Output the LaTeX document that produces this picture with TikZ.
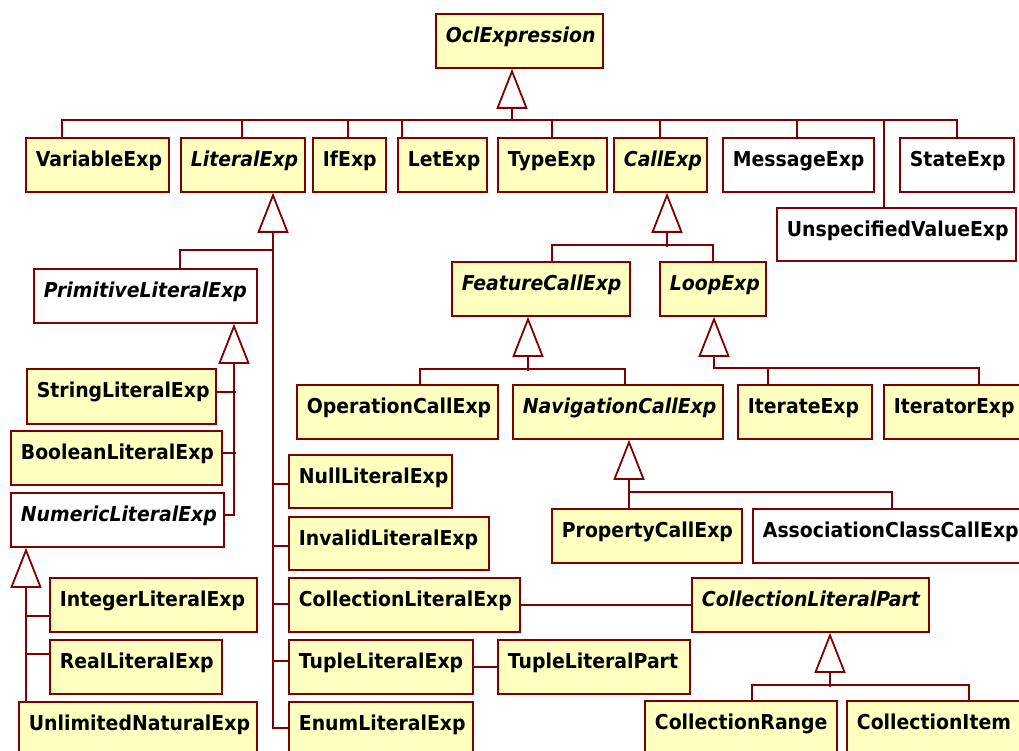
\documentclass[tikz,border=0pt]{standalone}
\usepackage{fontspec}
\setmainfont{DejaVu Sans}[FakeStretch=0.92]
\usetikzlibrary{arrows.meta}
\definecolor{umlred}{RGB}{128,0,0}
\definecolor{umlyellow}{RGB}{255,255,192}
\tikzset{
  umlbox/.style={draw=umlred, line width=1.8pt, fill=umlyellow, anchor=north west,
    inner xsep=10pt, inner ysep=0pt, text height=29pt, align=left,
    font=\fontsize{20.5}{24}\selectfont\bfseries},
  plainbox/.style={umlbox, fill=white},
  absbox/.style={umlbox, font=\fontsize{20.5}{24}\selectfont\bfseries\itshape},
  absplain/.style={absbox, fill=white},
  conn/.style={draw=umlred, line width=1.8pt},
  gen/.style={conn, -{Triangle[open, length=40pt, width=31pt, line width=1.8pt]}},
}
% #1 style, #2 name, #3 x, #4 y, #5 text width, #6 text depth, #7 text
\newcommand\umlnode[7]{\node[#1, text width=#5pt, text depth=#6pt] (#2) at (#3,#4) {\mbox{#7}};}
\begin{document}
\begin{tikzpicture}[x=1pt, y=-1pt]
\useasboundingbox (0,0) rectangle (1019,751);
\clip (0,0) rectangle (1019,751);
% nodes
\umlnode{absbox}{ocl}{435}{13}{147}{25}{OclExpression}
\umlnode{umlbox}{var}{25}{137}{123}{25}{VariableExp}
\umlnode{absbox}{lit}{180}{137}{104}{25}{LiteralExp}
\umlnode{umlbox}{ifx}{312}{137}{53}{25}{IfExp}
\umlnode{umlbox}{let}{397}{137}{69}{25}{LetExp}
\umlnode{umlbox}{type}{497}{137}{89}{25}{TypeExp}
\umlnode{absbox}{call}{613}{137}{73}{25}{CallExp}
\umlnode{plainbox}{msg}{722}{137}{131}{25}{MessageExp}
\umlnode{plainbox}{state}{899}{137}{94}{25}{StateExp}
\umlnode{plainbox}{unspec}{776}{207}{219}{24}{UnspecifiedValueExp}
\umlnode{absbox}{feat}{451}{261}{158}{25}{FeatureCallExp}
\umlnode{absbox}{loop}{659}{261}{86}{25}{LoopExp}
\umlnode{umlbox}{op}{296}{384}{181}{25}{OperationCallExp}
\umlnode{absbox}{nav}{512}{384}{190}{25}{NavigationCallExp}
\umlnode{umlbox}{iterate}{737}{384}{114}{25}{IterateExp}
\umlnode{umlbox}{iterator}{883}{384}{130}{25}{IteratorExp}
\umlnode{umlbox}{prop}{551}{508}{170}{25}{PropertyCallExp}
\umlnode{plainbox}{assoc}{752}{508}{270}{25}{AssociationClassCallExp}
\umlnode{absplain}{prim}{33}{268}{203}{25}{PrimitiveLiteralExp}
\umlnode{umlbox}{str}{26}{368}{169}{26}{StringLiteralExp}
\umlnode{umlbox}{bool}{10}{430}{191}{25}{BooleanLiteralExp}
\umlnode{absplain}{num}{10}{492}{193}{25}{NumericLiteralExp}
\umlnode{umlbox}{int}{49}{577}{187}{25}{IntegerLiteralExp}
\umlnode{umlbox}{real}{49}{639}{152}{25}{RealLiteralExp}
\umlnode{umlbox}{unl}{18}{701}{218}{31}{UnlimitedNaturalExp}
\umlnode{umlbox}{null}{288}{454}{143}{24}{NullLiteralExp}
\umlnode{umlbox}{inv}{288}{516}{180}{24}{InvalidLiteralExp}
\umlnode{umlbox}{coll}{288}{577}{211}{25}{CollectionLiteralExp}
\umlnode{umlbox}{tuple}{288}{639}{164}{25}{TupleLiteralExp}
\umlnode{umlbox}{tpart}{497}{639}{172}{25}{TupleLiteralPart}
\umlnode{umlbox}{enum}{288}{701}{164}{31}{EnumLiteralExp}
\umlnode{absbox}{clpart}{691}{577}{217}{25}{CollectionLiteralPart}
\umlnode{umlbox}{crange}{644}{700}{172}{31}{CollectionRange}
\umlnode{umlbox}{citem}{846}{700}{160}{31}{CollectionItem}
% top level generalisation
\coordinate (bus1) at (512,120);
\draw[gen] (bus1) -- ([xshift=77pt]ocl.south west);
\draw[conn] ([xshift=37pt]var.north west) |- (bus1) -| ([xshift=58pt]state.north west);
\draw[conn] ([xshift=62pt]lit.north west) -- ++(0,-17);
\draw[conn] ([xshift=36pt]ifx.north west) -- ++(0,-17);
\draw[conn] ([xshift=5pt]let.north west) -- ++(0,-17);
\draw[conn] ([xshift=55pt]type.north west) -- ++(0,-17);
\draw[conn] ([xshift=47pt]call.north west) -- ++(0,-17);
\draw[conn] ([xshift=75pt]msg.north west) -- ++(0,-17);
\draw[conn] ([xshift=108pt]unspec.north west) -- ++(0,-87);
% literal subtree
\draw[gen] ([yshift=-27pt]enum.north west) -| ([xshift=93pt]lit.south west);
\draw[conn] ([xshift=147pt]prim.north west) |- ++(93,-18);
\draw[conn] ([yshift=-30pt]null.north west) -- ++(-15,0);
\draw[conn] ([yshift=-30pt]inv.north west) -- ++(-15,0);
\draw[conn] ([yshift=-27pt]coll.north west) -- ++(-15,0);
\draw[conn] ([yshift=-22pt]tuple.north west) -- ++(-15,0);
% primitive literal subtree
\draw[gen] ([yshift=-23pt]num.north east) -| ([xshift=201pt]prim.south west);
\draw[conn] ([yshift=-24pt]str.north east) -- ++(19,0);
\draw[conn] ([yshift=-23pt]bool.north east) -- ++(13,0);
% numeric literal subtree
\draw[gen] ([xshift=8pt]unl.north west) -- ([xshift=16pt]num.south west);
\draw[conn] ([yshift=-39pt]int.north west) -- ++(-23,0);
\draw[conn] ([yshift=-15pt]real.north west) -- ++(-23,0);
% call subtree
\draw[gen] ([xshift=54pt,yshift=-54pt]call.south west) -- ([xshift=54pt]call.south west);
\draw[conn] ([xshift=101pt]feat.north west) -- ++(0,-16) -| ([xshift=54pt]loop.north west);
% feature call subtree
\draw[gen] ([xshift=77pt,yshift=-54pt]feat.south west) -- ([xshift=77pt]feat.south west);
\draw[conn] ([xshift=124pt]op.north west) -- ++(0,-15) -| ([xshift=113pt]nav.north west);
% loop subtree
\draw[gen] ([xshift=96pt]iterator.north west) -- ++(0,-16) -| ([xshift=55pt]loop.south west);
\draw[conn] ([xshift=31pt]iterate.north west) -- ++(0,-16);
% navigation subtree
\draw[gen] ([xshift=140pt]assoc.north west) -- ++(0,-16) -| ([xshift=117pt]nav.south west);
\draw[conn] ([xshift=78pt]prop.north west) -- ++(0,-16);
% associations
\draw[conn] (coll.east) -- (clpart.west);
\draw[conn] (tuple.east) -- (tpart.west);
% collection literal part subtree
\draw[gen] ([xshift=139pt,yshift=-54pt]clpart.south west) -- ([xshift=139pt]clpart.south west);
\draw[conn] ([xshift=108pt]crange.north west) -- ++(0,-15) -| ([xshift=123pt]citem.north west);
\end{tikzpicture}
\end{document}
